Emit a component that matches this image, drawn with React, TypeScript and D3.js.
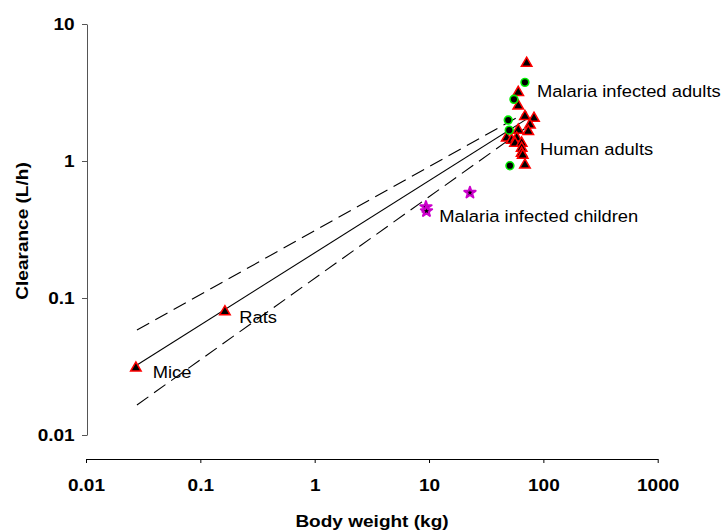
import { useEffect, useRef } from 'react';
import * as d3 from 'd3';

// body weight (kg) vs clearance (L/h), log-log
const triangleW = [0.0273, 0.164, 71.4, 60.3, 60.3, 69.0, 82.8, 76.3, 73.8, 60.3, 47.8, 52.8, 58.4, 56.5, 64.6, 64.6, 64.6, 66.0, 69.0];
const triangleC = [0.0308, 0.0794, 5.17, 3.17, 2.52, 2.11, 2.05, 1.83, 1.64, 1.68, 1.47, 1.42, 1.47, 1.35, 1.35, 1.24, 1.14, 1.10, 0.935];
const circleW = [69.0, 55.3, 49.3, 50.3, 51.0];
const circleC = [3.75, 2.82, 1.99, 1.68, 0.924];
const starW = [9.4, 9.5, 22.8];
const starC = [0.461, 0.431, 0.587];

const fitW = [0.0279, 71.9];
const fitC = [0.0324, 2.03];
const upperC = [0.0583, 2.28];
const lowerC = [0.01656, 1.77];

const labelText = ['Malaria infected adults', 'Human adults', 'Malaria infected children', 'Rats', 'Mice'];
const labelW = [88, 93.3, 12.3, 0.219, 0.0383];
const labelC = [2.93, 1.106, 0.361, 0.066, 0.0259];

const xTicks = [0.01, 0.1, 1, 10, 100, 1000];
const yTicks = [0.01, 0.1, 1, 10];

const FONT = '"Liberation Sans", Arial, sans-serif';

export default function App() {
  const ref = useRef<SVGSVGElement | null>(null);
  useEffect(() => {
    const svg = d3.select(ref.current!);
    svg.selectAll('*').remove();
    const W = 726, H = 532;
    svg.attr('viewBox', `0 0 ${W} ${H}`);

    const x = d3.scaleLog().domain([0.01, 1000]).range([86, 657.7]);
    const y = d3.scaleLog().domain([0.01, 10]).range([435, 24]);

    // y axis
    const ya = svg.append('g').attr('transform', 'translate(87,0)')
      .call(d3.axisLeft(y).tickValues(yTicks).tickSize(5).tickSizeOuter(0).tickPadding(6).tickFormat((d) => String(d)));
    ya.select('.domain').attr('stroke', '#555');
    ya.selectAll('.tick line').attr('stroke', '#555');
    ya.selectAll('text').attr('font-size', 17).attr('font-weight', 'bold').attr('font-family', FONT).attr('fill', '#000')
      .attr('transform', 'scale(1.12,1)');

    // x axis
    const xa = svg.append('g').attr('transform', 'translate(0,459)')
      .call(d3.axisBottom(x).tickValues(xTicks).tickSize(4).tickSizeOuter(0).tickPadding(16).tickFormat((d) => String(d)));
    xa.select('.domain').attr('stroke', '#000');
    xa.selectAll('.tick line').attr('stroke', '#000');
    xa.selectAll('text').attr('font-size', 17).attr('font-weight', 'bold').attr('font-family', FONT).attr('fill', '#000')
      .attr('transform', 'scale(1.12,1)');

    // titles
    svg.append('text').attr('transform', 'translate(372,527) scale(1.12,1)').attr('text-anchor', 'middle')
      .attr('font-size', 17).attr('font-weight', 'bold').attr('font-family', FONT).text('Body weight (kg)');
    svg.append('text').attr('transform', 'translate(28,231) rotate(-90) scale(1.12,1)').attr('text-anchor', 'middle')
      .attr('font-size', 17).attr('font-weight', 'bold').attr('font-family', FONT).text('Clearance (L/h)');

    // regression line and bands
    const line = d3.line<[number, number]>().x((d) => x(d[0])).y((d) => y(d[1]));
    const pairs = (c: number[]) => fitW.map((w, i) => [w, c[i]] as [number, number]);
    svg.append('path').attr('d', line(pairs(fitC))).attr('fill', 'none').attr('stroke', '#000').attr('stroke-width', 1.1);
    [upperC, lowerC].forEach((c) => {
      svg.append('path').attr('d', line(pairs(c))).attr('fill', 'none').attr('stroke', '#000')
        .attr('stroke-width', 1.1).attr('stroke-dasharray', '14,7');
    });

    // markers
    const tri = d3.symbol().type(d3.symbolTriangle).size(48);
    svg.append('g').selectAll('path').data(triangleW).enter().append('path')
      .attr('d', tri).attr('transform', (d, i) => `translate(${x(d)},${y(triangleC[i])})`)
      .attr('fill', '#000').attr('stroke', '#ff0000').attr('stroke-width', 1.5);
    svg.append('g').selectAll('circle').data(circleW).enter().append('circle')
      .attr('cx', (d) => x(d)).attr('cy', (d, i) => y(circleC[i])).attr('r', 3.9)
      .attr('fill', '#000').attr('stroke', '#00ee00').attr('stroke-width', 1.6);
    const star = d3.symbol().type(d3.symbolStar).size(40);
    svg.append('g').selectAll('path').data(starW).enter().append('path')
      .attr('d', star).attr('transform', (d, i) => `translate(${x(d)},${y(starC[i])})`)
      .attr('fill', '#000').attr('stroke', '#cc00cc').attr('stroke-width', 2).attr('stroke-linejoin', 'round');

    // annotations
    svg.append('g').selectAll('text').data(labelText).enter().append('text')
      .attr('transform', (d, i) => `translate(${x(labelW[i])},${y(labelC[i])}) scale(1.08,1)`)
      .attr('font-size', 17).attr('font-family', FONT).attr('fill', '#000').text((d) => d);
  }, []);
  return <svg ref={ref} width={726} height={532} style={{ position: 'absolute', left: 0, top: 0, background: '#fff' }} />;
}
